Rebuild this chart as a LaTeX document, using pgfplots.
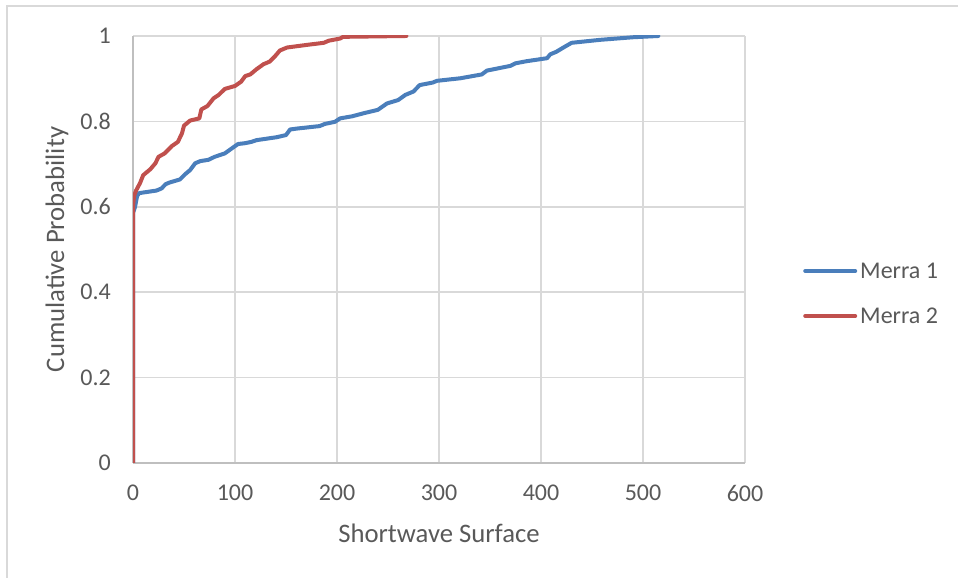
\documentclass[border=0pt]{standalone}
\usepackage{fontspec}
\setmainfont{Carlito}
\usepackage{pgfplots}
\pgfplotsset{compat=1.18}
\definecolor{mblue}{HTML}{4A7EBB}
\definecolor{mred}{HTML}{C0504D}
\definecolor{gridgray}{HTML}{D9D9D9}
\definecolor{axisgray}{HTML}{BFBFBF}
\definecolor{textgray}{HTML}{595959}

% Empirical CDF of shortwave surface radiation, MERRA-1
\pgfplotstableread{
x y
0 0
0 0.585
2 0.600
4 0.625
6 0.632
23 0.638
28 0.643
32 0.653
36 0.657
46 0.664
51 0.676
56 0.686
61 0.702
66 0.707
74 0.710
80 0.717
90 0.725
97 0.737
103 0.747
110 0.749
116 0.752
121 0.756
141 0.763
150 0.768
154 0.781
160 0.783
183 0.789
188 0.794
198 0.799
203 0.807
215 0.812
226 0.819
240 0.827
249 0.842
260 0.850
267 0.862
275 0.870
281 0.885
294 0.891
298 0.895
321 0.901
342 0.910
347 0.919
370 0.930
375 0.936
386 0.941
406 0.948
409 0.957
415 0.963
422 0.973
430 0.984
458 0.991
490 0.997
515 1.000
}\merraone

% Empirical CDF of shortwave surface radiation, MERRA-2
\pgfplotstableread{
x y
0 0
0 0.600
1 0.625
3 0.638
7 0.656
10 0.674
17 0.688
22 0.702
25 0.717
31 0.725
38 0.742
44 0.752
48 0.772
50 0.790
56 0.802
65 0.807
67 0.828
73 0.836
79 0.854
84 0.862
90 0.876
100 0.883
106 0.893
110 0.906
115 0.910
121 0.922
128 0.934
134 0.940
139 0.952
144 0.966
151 0.973
170 0.979
187 0.984
192 0.989
203 0.994
206 0.998
268 1.000
}\merratwo

\begin{document}
\begin{tikzpicture}[x=1bp,y=1bp]
\useasboundingbox (0,0) rectangle (958,578);
% chart area frame
\draw[gridgray, line width=1.5bp] (7,0) -- (7,572) -- (958,572);
\begin{axis}[
  at={(133bp,115bp)}, anchor=south west,
  width=612bp, height=427bp, scale only axis,
  xmin=0, xmax=600, ymin=0, ymax=1,
  xtick={0,100,200,300,400,500,600},
  ytick={0,0.2,0.4,0.6,0.8,1},
  grid=major,
  major grid style={gridgray, line width=1.5bp},
  axis x line*=bottom, axis y line*=left,
  axis line style={axisgray, line width=2.2bp},
  major tick length=0pt, tick style={draw=none},
  /pgf/number format/assume math mode=true,
  tick label style={font=\fontsize{24bp}{28bp}\selectfont, text=textgray},
  xticklabel style={anchor=center, yshift=-30bp},
  yticklabel style={anchor=east, inner sep=0pt, xshift=-22bp},
  label style={font=\fontsize{26.7bp}{30bp}\selectfont, text=textgray},
  xlabel={Shortwave Surface},
  xlabel style={at={(axis description cs:0.5,-0.1639)}, anchor=center},
  ylabel={Cumulative Probability},
  ylabel style={at={(axis description cs:-0.1242,0.5)}, anchor=center},
  legend cell align=left,
  legend style={draw=none, fill=none, inner sep=0pt,
    at={(axis description cs:1.0948,0.397)}, anchor=west,
    font=\fontsize{24bp}{28bp}\selectfont, text=textgray,
    nodes={inner sep=0pt, text height=16bp, text depth=0bp},
    row sep=29bp,
    /tikz/every odd column/.append style={column sep=3bp}},
  legend image code/.code={\draw[#1] (2bp,0bp) -- (52bp,0bp);},
  every axis plot/.append style={line width=4bp, line join=round, line cap=round},
]
\addplot[mblue] table[x=x, y=y] {\merraone};
\addlegendentry{Merra 1}
\addplot[mred] table[x=x, y=y] {\merratwo};
\addlegendentry{Merra 2}
\end{axis}
\end{tikzpicture}
\end{document}
